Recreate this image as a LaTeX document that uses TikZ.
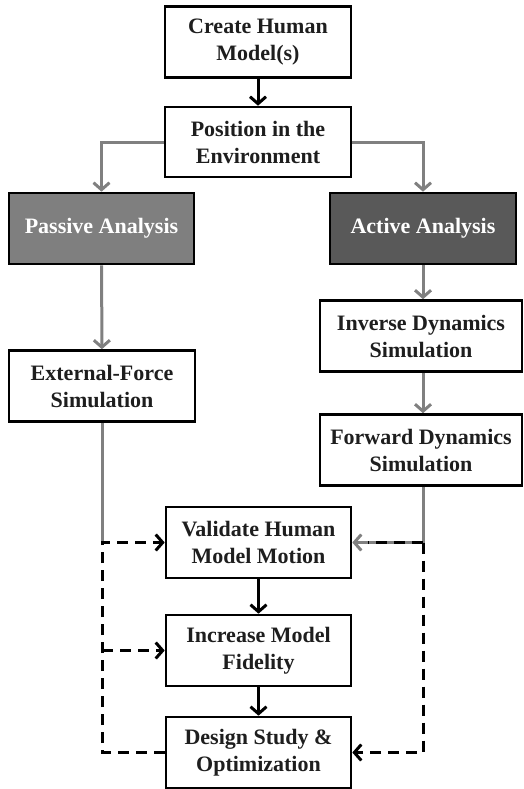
\documentclass[tikz,border=0pt]{standalone}
\usepackage{fontspec}
\setmainfont{Liberation Serif}
\usetikzlibrary{arrows.meta}
\definecolor{linegray}{HTML}{808080}
\definecolor{passivefill}{HTML}{7F7F7F}
\definecolor{activefill}{HTML}{595959}
\definecolor{txt}{HTML}{1E1E1E}
\begin{document}
\begin{tikzpicture}[x=1pt,y=-1pt,
  box/.style={draw=black,line width=2.6pt,fill=white,minimum width=186pt,minimum height=71pt,
    align=center,inner sep=0pt,text=txt,font=\fontsize{22}{27}\selectfont\bfseries},
  shadebox/.style={box,text=white},
  tip/.style={-{Straight Barb[length=7pt,width=16pt,line width=3pt]}},
  blk/.style={draw=black,line width=3pt},
  gry/.style={draw=linegray,line width=3pt},
  dsh/.style={draw=black,line width=3pt,dash pattern=on 11pt off 7pt}]
\useasboundingbox (0,0) rectangle (524,789);
\node[box] (create) at (258,42) {Create Human\\Model(s)};
\node[box,minimum height=70pt] (position) at (258,142) {Position in the\\Environment};
\node[shadebox,fill=passivefill,minimum width=185pt] (passive) at (101.5,228.5) {Passive Analysis};
\node[shadebox,fill=activefill] (active) at (423,228.5) {Active Analysis};
\node[box] (external) at (102,386) {External-Force\\Simulation};
\node[box,minimum width=202pt] (inverse) at (421,336) {Inverse Dynamics\\Simulation};
\node[box,minimum width=202pt] (forward) at (421,450) {Forward Dynamics\\Simulation};
\node[box,minimum width=185pt] (validate) at (258.5,542.5) {Validate Human\\Model Motion};
\node[box,minimum width=185pt] (increase) at (258.5,650.5) {Increase Model\\Fidelity};
\node[box,minimum width=185pt] (design) at (258.5,752.5) {Design Study \&\\Optimization};
\coordinate (lc) at (external.south |- validate.west);
\coordinate (rc) at (423,0 |- validate.east);
% main flow
\draw[blk,tip] (create) -- (position);
\draw[gry,tip] (position.west) -| (passive.north);
\draw[gry,tip] (position.east) -| (active.north);
\draw[gry,tip] (passive) -- (external);
\draw[gry,tip] (active.south) -- (active.south |- inverse.north);
\draw[gry,tip] (inverse.south -| active.south) -- (forward.north -| active.south);
\draw[gry] (external.south) -- (lc);
\draw[gry,tip] (forward.south -| rc) -- (rc) -- (validate.east);
\draw[blk,tip] (validate) -- (increase);
\draw[blk,tip] (increase) -- (design);
% feedback loops
\draw[dsh,tip] (design.west) -| (lc) -- (validate.west);
\draw[dsh,tip] (lc |- increase.west) -- (increase.west);
\draw[dsh,shorten >=16pt] (rc) -- (validate.east);
\draw[dsh,tip] (rc) |- (design.east);
\end{tikzpicture}
\end{document}
